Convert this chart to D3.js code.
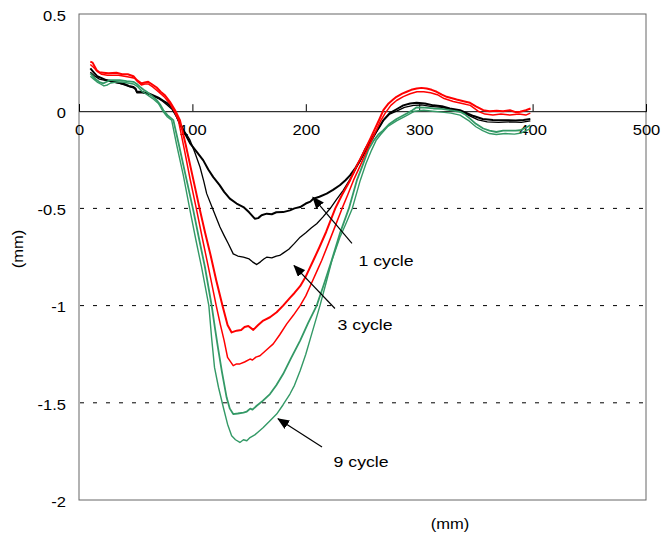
<!DOCTYPE html>
<html>
<head>
<meta charset="utf-8">
<script src="https://cdn.jsdelivr.net/npm/d3@7"></script>
<style>
  body { margin: 0; background: #fff; }
  svg text { font-family: "Liberation Sans", Arial, sans-serif; fill: #000; }
</style>
</head>
<body>
<svg id="chart" width="666" height="540"></svg>
<script>
// Surface profile across the track (mm) after 1, 3 and 9 loading cycles
const xTicks = [0, 100, 200, 300, 400, 500];
const yTicks = [0.5, 0, -0.5, -1, -1.5, -2];
const gridValues = [-0.5, -1, -1.5];

const black1 = [[10,0.22],[13,0.2],[16,0.18],[20,0.17],[24,0.16],[28,0.155],[32,0.15],[36,0.145],[40,0.14],[44,0.13],[48,0.125],[50,0.115],[51,0.1],[55,0.1],[58,0.095],[62,0.09],[66,0.08],[70,0.07],[74,0.055],[78,0.04],[82,0.02],[85,-0.01],[89,-0.064],[93,-0.11],[98,-0.165],[104,-0.21],[109.6,-0.253],[114,-0.3],[118.4,-0.339],[124,-0.38],[128,-0.415],[133,-0.45],[139,-0.475],[145,-0.493],[150,-0.52],[155,-0.553],[158,-0.55],[161,-0.535],[165.5,-0.527],[170,-0.53],[174,-0.52],[180,-0.519],[186,-0.51],[190,-0.5],[195,-0.493],[200,-0.475],[204,-0.465],[206.6,-0.45],[212,-0.44],[218.4,-0.424],[224,-0.405],[230,-0.381],[235,-0.355],[239,-0.33],[244,-0.29],[247.8,-0.253],[252,-0.2],[256,-0.16],[261,-0.115],[265,-0.08],[268.4,-0.046],[274,-0.01],[280,0.01],[286,0.03],[292,0.04],[297.7,0.043],[305,0.04],[312.5,0.03],[320,0.025],[327,0.014],[336,0.005],[342,-0.01],[348,-0.025],[356,-0.04],[365,-0.045],[375,-0.046],[385,-0.048],[392,-0.045],[398,-0.04]];

const black2 = [[10,0.2],[14,0.18],[18,0.165],[22,0.16],[26,0.155],[30,0.15],[35,0.145],[40,0.135],[45,0.125],[48,0.12],[50,0.11],[51,0.095],[55,0.095],[60,0.09],[65,0.08],[70,0.065],[74,0.05],[78,0.03],[82,0.01],[86,-0.03],[90,-0.08],[95,-0.12],[97.9,-0.149],[102,-0.21],[106.7,-0.287],[110,-0.36],[112.6,-0.424],[118.4,-0.51],[124.3,-0.596],[128,-0.64],[131.7,-0.682],[136,-0.734],[140,-0.745],[145,-0.751],[150,-0.76],[153,-0.775],[156.7,-0.789],[160,-0.775],[163,-0.76],[165.5,-0.751],[170,-0.755],[174,-0.745],[177,-0.742],[180,-0.73],[185,-0.71],[190,-0.68],[195,-0.648],[200,-0.625],[205,-0.6],[209.6,-0.579],[215,-0.545],[221.3,-0.502],[227,-0.455],[233,-0.407],[238,-0.36],[241.9,-0.321],[246,-0.275],[250.7,-0.227],[256.6,-0.167],[263,-0.1],[268,-0.05],[274,-0.015],[280,0.0],[287,0.02],[295,0.03],[302,0.032],[310,0.025],[320,0.02],[330,0.005],[338,-0.005],[345,-0.025],[352,-0.045],[360,-0.055],[370,-0.058],[380,-0.055],[390,-0.058],[398,-0.05]];

const red1 = [[10,0.255],[12,0.25],[15.6,0.211],[18,0.2],[21.4,0.198],[26,0.195],[33,0.198],[38,0.19],[43,0.19],[48,0.18],[51,0.16],[55,0.143],[58,0.148],[61,0.151],[64,0.14],[68.5,0.122],[72,0.1],[75.8,0.082],[80.2,0.048],[84.7,0.005],[89,-0.046],[94,-0.17],[100,-0.33],[106.7,-0.51],[111,-0.62],[116,-0.74],[121,-0.87],[126.5,-1.0],[131,-1.1],[134.6,-1.138],[139,-1.129],[143,-1.125],[146,-1.11],[149.3,-1.105],[153.7,-1.125],[158,-1.1],[162.5,-1.077],[168.4,-1.06],[174.3,-1.034],[180,-1.0],[186,-0.96],[190,-0.935],[195,-0.9],[200,-0.85],[206.6,-0.768],[212,-0.7],[218,-0.62],[226,-0.5],[232,-0.43],[239,-0.356],[245,-0.28],[252,-0.2],[257,-0.14],[261,-0.09],[265,-0.04],[268.4,0.005],[273,0.04],[277,0.06],[280,0.074],[285,0.09],[289,0.1],[293,0.11],[297.8,0.117],[302,0.12],[306.6,0.117],[311,0.11],[315.4,0.1],[320,0.085],[324.2,0.074],[333,0.06],[340,0.05],[344.8,0.043],[350,0.025],[356.5,0.005],[362,0.0],[368.3,0.002],[374,0.0],[380,0.005],[385,-0.005],[389,-0.003],[394,0.005],[398.2,0.014]];

const red2 = [[10,0.24],[13,0.225],[16,0.205],[20,0.19],[25,0.185],[30,0.185],[35,0.185],[40,0.18],[45,0.175],[49,0.17],[52,0.15],[55,0.135],[58,0.14],[61,0.14],[65,0.125],[70,0.1],[75,0.075],[80,0.04],[84,0.0],[87.6,-0.046],[93,-0.2],[98,-0.35],[103.8,-0.51],[109,-0.66],[114,-0.8],[117.5,-0.9],[121,-1.0],[124.5,-1.094],[128,-1.18],[131,-1.266],[136,-1.309],[139,-1.3],[141.9,-1.3],[146,-1.29],[150.8,-1.275],[153,-1.28],[156,-1.265],[159.6,-1.258],[165,-1.23],[171.3,-1.197],[177,-1.15],[183.2,-1.094],[189,-1.05],[195,-1.0],[200,-0.95],[205,-0.885],[210,-0.82],[214,-0.768],[220,-0.68],[226,-0.59],[232,-0.5],[237,-0.43],[242,-0.356],[248,-0.28],[254,-0.2],[258,-0.15],[262,-0.1],[266,-0.05],[270,-0.01],[275,0.03],[280,0.055],[286,0.075],[292,0.09],[298,0.1],[304,0.1],[310,0.095],[316,0.085],[322,0.065],[330,0.05],[338,0.04],[345,0.03],[352,0.0],[358,-0.015],[365,-0.02],[372,-0.015],[380,-0.02],[388,-0.015],[394,-0.02],[398,-0.01]];

const green1 = [[10,0.194],[13,0.175],[15.6,0.16],[18,0.15],[21.4,0.143],[24,0.15],[27.3,0.16],[32,0.16],[36,0.16],[42,0.155],[48,0.151],[51,0.14],[53.8,0.125],[57,0.11],[59.7,0.1],[64,0.08],[68.5,0.057],[72,0.03],[74.4,0.005],[78,-0.02],[83.2,-0.046],[88,-0.17],[94,-0.33],[100.8,-0.51],[106,-0.66],[111,-0.8],[117,-1.0],[120,-1.12],[122.5,-1.215],[126,-1.34],[130.2,-1.473],[133,-1.53],[136,-1.558],[140,-1.555],[145,-1.55],[148,-1.545],[151,-1.53],[153,-1.535],[156.7,-1.515],[162,-1.49],[168.4,-1.455],[174,-1.41],[180,-1.352],[187,-1.27],[195,-1.18],[202,-1.09],[209.6,-1.0],[216,-0.89],[222.8,-0.768],[230,-0.63],[238,-0.5],[245,-0.356],[250,-0.28],[255,-0.2],[260,-0.15],[264,-0.12],[268,-0.1],[274,-0.064],[280,-0.04],[289,-0.012],[294,0.005],[297.8,0.02],[305,0.018],[312.5,0.014],[320,0.012],[327,0.005],[336,-0.003],[340,-0.015],[344.8,-0.038],[350,-0.065],[356.5,-0.089],[362,-0.1],[368,-0.107],[374,-0.1],[380,-0.1],[385,-0.1],[389,-0.098],[394,-0.085],[398,-0.072]];

const green2 = [[10,0.18],[13,0.165],[16,0.15],[19,0.14],[22,0.13],[25,0.135],[28,0.145],[33,0.15],[38,0.15],[43,0.145],[48,0.14],[52,0.125],[56,0.1],[60,0.085],[65,0.065],[70,0.04],[74,0.0],[78,-0.03],[81.7,-0.046],[86,-0.17],[92,-0.33],[97.9,-0.51],[103,-0.66],[108,-0.8],[114.5,-1.0],[117,-1.17],[119.5,-1.318],[123,-1.42],[127.3,-1.524],[131,-1.61],[134.6,-1.67],[138,-1.69],[141.9,-1.704],[145,-1.69],[148,-1.695],[150.8,-1.679],[155,-1.665],[158,-1.65],[162.5,-1.627],[168,-1.595],[174.3,-1.558],[180,-1.51],[186,-1.455],[190,-1.41],[195,-1.335],[200,-1.25],[204,-1.17],[208,-1.09],[212.5,-1.0],[218,-0.88],[223,-0.768],[230,-0.65],[236,-0.57],[241,-0.5],[248,-0.356],[253,-0.27],[258,-0.2],[262,-0.15],[266,-0.12],[272,-0.08],[280,-0.05],[288,-0.025],[296,0.0],[304,0.005],[312,0.0],[320,-0.005],[328,-0.01],[336,-0.02],[344,-0.05],[350,-0.08],[356,-0.1],[362,-0.115],[368,-0.12],[376,-0.115],[384,-0.118],[390,-0.112],[398,-0.09]];

// cycle labels: arrow tail, arrow tip, label anchor (data units)
const cycleLabels = ["1 cycle", "3 cycle", "9 cycle"];
const arrowTails = [[240.7,-0.68],[225.7,-1.015],[214.3,-1.727]];
const arrowTips  = [[206.3,-0.443],[189.6,-0.794],[175.5,-1.582]];
const labelAnchors = [[246.5,-0.768],[228,-1.098],[224.5,-1.804]];

const svg = d3.select("#chart");
const x = d3.scaleLinear().domain([0, 500]).range([79, 646]);
const y = d3.scaleLinear().domain([-2, 0.5]).range([500, 14]);
const STRETCH = 1.18;

// dashed grid lines
svg.append("g").selectAll("line").data(gridValues).join("line")
  .attr("x1", x(0) + 1).attr("x2", x(500))
  .attr("y1", d => y(d)).attr("y2", d => y(d))
  .attr("stroke", "#000").attr("stroke-width", 1)
  .attr("stroke-dasharray", "4,9");

// plot frame
svg.append("rect")
  .attr("x", x(0)).attr("y", y(0.5))
  .attr("width", x(500) - x(0)).attr("height", y(-2) - y(0.5))
  .attr("fill", "none").attr("stroke", "#666").attr("stroke-width", 1);

// x axis along y = 0: ticks above, labels below
svg.append("g")
  .attr("transform", `translate(0,${y(0)})`)
  .call(d3.axisTop(x).tickValues(xTicks).tickSize(7).tickFormat(""))
  .call(g => g.select(".domain").attr("stroke", "#000"))
  .call(g => g.selectAll(".tick line").attr("stroke", "#000"));

const xLab = svg.append("g")
  .attr("transform", `translate(0,${y(0)})`)
  .call(d3.axisBottom(x).tickValues(xTicks).tickSize(0).tickPadding(14).tickFormat(d3.format("d")));
xLab.select(".domain").remove();
xLab.selectAll("text").attr("font-size", 14).attr("font-family", "Liberation Sans, Arial, sans-serif")
  .attr("transform", `scale(${STRETCH},1)`);

// y axis labels
const yLab = svg.append("g")
  .attr("transform", `translate(${x(0)},0)`)
  .call(d3.axisLeft(y).tickValues(yTicks).tickSize(0).tickPadding(11).tickFormat(d => String(d)));
yLab.select(".domain").remove();
yLab.selectAll("text").attr("font-size", 14).attr("font-family", "Liberation Sans, Arial, sans-serif")
  .attr("dy", "0.45em")
  .attr("transform", `scale(${STRETCH},1)`);

// profile lines
const line = d3.line().x(d => x(d[0])).y(d => y(d[1]));
const series = [
  { data: black2, color: "#000000", width: 1.3 },
  { data: black1, color: "#000000", width: 2 },
  { data: green2, color: "#339966", width: 1.4 },
  { data: green1, color: "#339966", width: 1.8 },
  { data: red2, color: "#ff0000", width: 1.5 },
  { data: red1, color: "#ff0000", width: 2 }
];
svg.append("g").selectAll("path").data(series).join("path")
  .attr("d", d => line(d.data))
  .attr("fill", "none")
  .attr("stroke", d => d.color)
  .attr("stroke-width", d => d.width)
  .attr("stroke-linejoin", "round");

// arrows with labels
svg.append("defs").append("marker")
  .attr("id", "arrowhead")
  .attr("viewBox", "0 0 12 10")
  .attr("refX", 11).attr("refY", 5)
  .attr("markerWidth", 12).attr("markerHeight", 10)
  .attr("markerUnits", "userSpaceOnUse")
  .attr("orient", "auto")
  .append("path").attr("d", "M0,0 L12,5 L0,10 Z").attr("fill", "#000");

cycleLabels.forEach((label, i) => {
  svg.append("line")
    .attr("x1", x(arrowTails[i][0])).attr("y1", y(arrowTails[i][1]))
    .attr("x2", x(arrowTips[i][0])).attr("y2", y(arrowTips[i][1]))
    .attr("stroke", "#000").attr("stroke-width", 1.2)
    .attr("marker-end", "url(#arrowhead)");
  svg.append("text")
    .attr("transform", `translate(${x(labelAnchors[i][0])},${y(labelAnchors[i][1])}) scale(${STRETCH},1)`)
    .attr("dy", "0.35em")
    .attr("font-size", 15)
    .text(label);
});

// axis titles
svg.append("text")
  .attr("transform", `translate(450,524) scale(${STRETCH},1)`)
  .attr("text-anchor", "middle").attr("dy", "0.35em")
  .attr("font-size", 14).text("(mm)");
svg.append("text")
  .attr("transform", `translate(18,249) rotate(-90) scale(${STRETCH},1)`)
  .attr("text-anchor", "middle").attr("dy", "0.35em")
  .attr("font-size", 14).text("(mm)");
</script>
</body>
</html>
